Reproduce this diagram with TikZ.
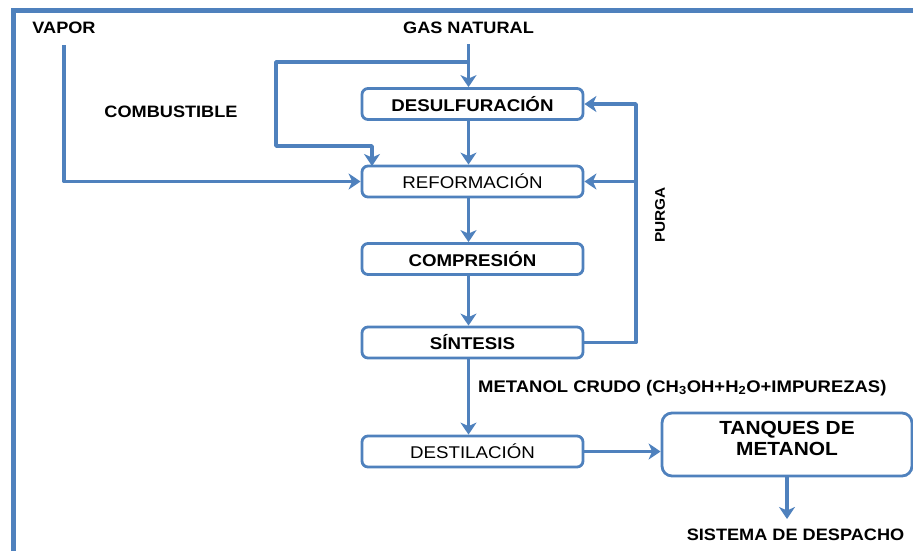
\documentclass[tikz,border=0pt]{standalone}
\usepackage{fontspec}
\setmainfont{Liberation Sans}[FakeStretch=1.1]
\usetikzlibrary{arrows.meta}

\definecolor{flow}{RGB}{79,129,189}

\tikzset{
  line/.style={draw=flow, line width=3.8pt, line join=round},
  arr/.style={line, -{Stealth[length=12pt,width=16pt,inset=3.5pt]}},
  stage/.style={draw=flow, line width=2.8pt, fill=white, rounded corners=6pt,
    minimum width=221pt, minimum height=31pt, inner sep=0pt,
    font=\fontsize{17}{19}\selectfont},
  tag/.style={font=\bfseries\fontsize{16.5}{18}\selectfont, inner sep=0pt, text=black},
}

\begin{document}
\begin{tikzpicture}[x=1pt, y=-1pt]
  \useasboundingbox (0,0) rectangle (913,550);
  \clip (0,0) rectangle (913,550);

  % outer frame
  \draw[draw=flow, line width=5pt] (13,570) -- (13,10) -- (930,10);

  % process stages
  \node[stage, font=\bfseries\fontsize{17}{19}\selectfont] (desulf) at (472.5,104) {DESULFURACIÓN};
  \node[stage] (reform) at (472.5,181.5) {REFORMACIÓN};
  \node[stage, font=\bfseries\fontsize{17}{19}\selectfont] (compr) at (472.5,259) {COMPRESIÓN};
  \node[stage, font=\bfseries\fontsize{17}{19}\selectfont] (sint) at (472.5,342.5) {SÍNTESIS};
  \node[stage] (destil) at (472.5,451.5) {DESTILACIÓN};
  \node[stage, minimum width=250pt, minimum height=63pt, rounded corners=10pt,
        align=center, font=\bfseries\fontsize{19}{21}\selectfont] (tanques) at (787,444.5)
        {TANQUES DE\\METANOL\rule[-13pt]{0pt}{13pt}};

  % stream labels
  \node[tag] (vapor) at (64,28) {VAPOR};
  \node[tag] (gas) at (468.5,28) {GAS NATURAL};
  \node[tag] (comb) at (171,112) {COMBUSTIBLE};
  \node[font=\bfseries\fontsize{14}{16}\selectfont, rotate=90, inner sep=0pt] (purga) at (660,215) {PURGA};
  \node[tag, anchor=west, font=\bfseries\fontsize{16.8}{18}\selectfont] (metanol) at (478,388)
        {METANOL CRUDO (CH\textsubscript{3}OH+H\textsubscript{2}O+IMPUREZAS)};
  \node[tag] (despacho) at (795.5,535) {SISTEMA DE DESPACHO};

  % routing points
  \coordinate (col) at (468.5,0);
  \coordinate (gtop) at (468.5,44);
  \coordinate (fuel) at (468.5,62);
  \coordinate (fuelL) at (276,146);
  \coordinate (fuelIn) at (372,166);
  \coordinate (vtop) at (64,45);
  \coordinate (purge) at (636,104);
  \coordinate (tout) at (787,519);

  % natural gas feed and fuel branch
  \draw[arr] (gtop) -- (desulf.north -| col);
  \draw[arr] (fuel) -| (fuelL) -| (fuelIn);
  % steam
  \draw[arr] (vtop) |- (reform.west);
  % main train
  \draw[arr] (desulf.south -| col) -- (reform.north -| col);
  \draw[arr] (reform.south -| col) -- (compr.north -| col);
  \draw[arr] (compr.south -| col) -- (sint.north -| col);
  \draw[arr] (sint.south -| col) -- (destil.north -| col);
  % purge recycle
  \draw[arr] (sint.east) -| (purge) -- (desulf.east);
  \draw[arr] (reform.east -| purge) -- (reform.east);
  % product
  \draw[arr] (destil.east) -- (destil.east -| tanques.west);
  \draw[arr] (tanques.south) -- (tout);
\end{tikzpicture}
\end{document}
